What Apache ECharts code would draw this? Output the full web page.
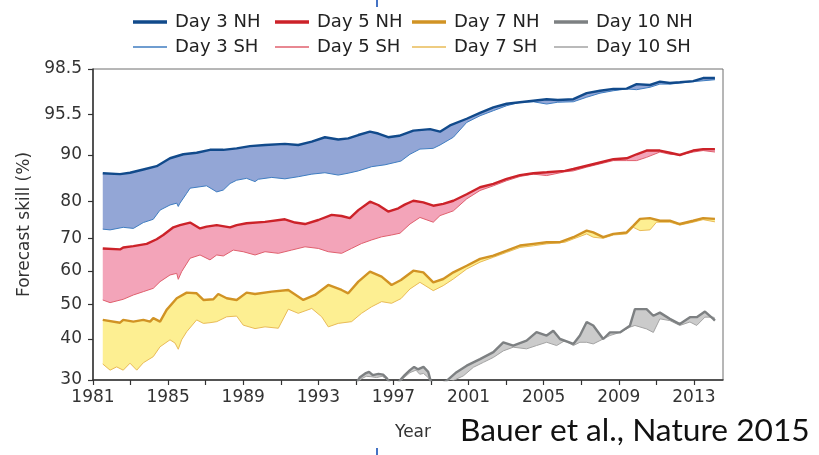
<!DOCTYPE html>
<html><head><meta charset="utf-8">
<script src="https://cdn.jsdelivr.net/npm/echarts@6/dist/echarts.min.js"></script>
<style>html,body{margin:0;padding:0;background:#fff}#c{width:819px;height:455px}</style>
</head><body><div id="c"></div>
<script>
// ---- axis definitions ----
const yearTicks = [1981,1983,1985,1987,1989,1991,1993,1995,1997,1999,2001,2003,2005,2007,2009,2011,2013];
const yearLabels = [1981,1985,1989,1993,1997,2001,2005,2009,2013];
const skillTicks = [30,40,50,60,70,80,90,95.5,98.5];
// the original figure uses a non-linear skill axis: relative axis units at each tick value
const skillScale = [0,41,75.7,109,141.7,178.3,225,265.7,311];

// ---- data: [year, forecast skill %] ----
const day3NH = [[1981.52,86.1],[1982.44,85.9],[1982.97,86.2],[1983.68,86.9],[1984.39,87.6],[1985.1,89.3],[1985.81,90.1],[1986.52,90.3],[1987.23,90.7],[1987.94,90.7],[1988.65,90.9],[1989.36,91.2],[1990.16,91.35],[1991.22,91.5],[1991.93,91.35],[1992.65,91.8],[1993.35,92.4],[1994.06,92.1],[1994.59,92.25],[1995.13,92.7],[1995.75,93.15],[1996.19,92.9],[1996.72,92.4],[1997.3,92.6],[1998.06,93.3],[1998.95,93.5],[1999.48,93.15],[2000.01,94.0],[2000.9,94.9],[2001.61,95.6],[2002.32,95.96],[2003.03,96.2],[2003.74,96.3],[2004.45,96.4],[2005.16,96.5],[2005.75,96.45],[2006.58,96.5],[2007.29,96.9],[2008.0,97.06],[2008.71,97.18],[2009.42,97.2],[2009.95,97.5],[2010.66,97.44],[2011.19,97.66],[2011.72,97.57],[2012.25,97.62],[2012.96,97.7],[2013.49,97.9],[2014.12,97.9]];
const day3SH = [[1981.52,72.5],[1981.91,72.3],[1982.61,73.0],[1983.15,72.7],[1983.68,74.3],[1984.21,75.2],[1984.57,77.7],[1985.1,79.1],[1985.46,79.6],[1985.54,78.7],[1985.63,79.6],[1985.99,81.8],[1986.17,82.9],[1986.7,83.2],[1987.05,83.4],[1987.59,82.1],[1987.94,82.5],[1988.3,83.9],[1988.65,84.6],[1989.18,85.0],[1989.63,84.3],[1989.8,84.8],[1990.52,85.2],[1991.22,84.9],[1991.93,85.35],[1992.65,85.9],[1993.35,86.2],[1994.06,85.7],[1994.59,86.1],[1995.13,86.6],[1995.84,87.5],[1996.55,87.9],[1997.08,88.4],[1997.4,88.7],[1997.88,90.1],[1998.41,90.8],[1999.12,90.9],[1999.48,91.35],[2000.19,92.4],[2000.9,94.4],[2001.61,95.3],[2002.32,95.74],[2003.03,96.07],[2003.74,96.3],[2004.45,96.33],[2005.16,96.18],[2005.75,96.3],[2006.58,96.33],[2007.29,96.63],[2008.0,96.9],[2008.71,97.06],[2009.42,97.18],[2009.95,97.13],[2010.66,97.29],[2011.19,97.5],[2011.72,97.5],[2012.25,97.57],[2012.96,97.66],[2013.49,97.72],[2014.12,97.79]];
const day5NH = [[1981.52,66.9],[1982.44,66.6],[1982.61,67.2],[1983.15,67.6],[1983.86,68.3],[1984.39,69.7],[1984.74,70.9],[1985.28,73.0],[1985.63,73.6],[1986.17,74.3],[1986.7,72.7],[1987.05,73.2],[1987.59,73.6],[1988.3,73.0],[1988.65,73.6],[1989.18,74.1],[1990.16,74.5],[1991.22,75.2],[1991.76,74.3],[1992.29,73.9],[1993.0,75.0],[1993.71,76.4],[1994.24,76.1],[1994.68,75.5],[1995.13,77.7],[1995.75,80.0],[1996.19,79.1],[1996.72,77.3],[1997.26,78.2],[1997.6,79.2],[1998.06,80.2],[1998.59,79.8],[1999.12,78.9],[1999.65,79.4],[2000.19,80.2],[2000.9,81.6],[2001.61,83.1],[2002.32,83.8],[2003.03,84.9],[2003.74,85.7],[2004.45,86.1],[2005.16,86.3],[2006.13,86.6],[2006.58,87.0],[2007.29,87.7],[2008.0,88.4],[2008.71,89.1],[2009.42,89.3],[2009.95,90.1],[2010.48,90.6],[2011.19,90.6],[2011.72,90.3],[2012.25,90.0],[2012.96,90.6],[2013.49,90.8],[2014.12,90.8]];
const day5SH = [[1981.52,51.3],[1981.91,50.5],[1982.61,51.5],[1983.15,52.8],[1983.68,53.8],[1984.21,54.8],[1984.57,56.8],[1985.1,58.8],[1985.46,59.3],[1985.54,57.5],[1985.72,59.8],[1986.17,63.9],[1986.7,64.9],[1987.23,63.4],[1987.59,64.9],[1987.94,64.6],[1988.47,66.4],[1989.0,65.9],[1989.63,64.9],[1990.16,65.9],[1990.87,65.4],[1991.58,66.4],[1992.29,67.4],[1993.0,66.9],[1993.53,65.9],[1994.24,65.4],[1994.77,66.9],[1995.3,68.4],[1995.84,69.5],[1996.37,70.4],[1996.9,70.9],[1997.35,71.4],[1997.88,73.9],[1998.41,75.7],[1999.12,74.4],[1999.48,76.2],[2000.19,77.5],[2000.9,80.6],[2001.61,82.4],[2002.32,83.4],[2003.03,84.5],[2003.74,85.4],[2004.45,85.9],[2005.16,85.6],[2006.13,86.4],[2006.58,86.6],[2007.29,87.4],[2008.0,88.1],[2008.71,88.8],[2009.42,88.8],[2009.95,88.8],[2010.48,89.5],[2011.19,90.4],[2011.72,90.1],[2012.25,90.0],[2012.96,90.4],[2013.49,90.6],[2014.12,90.4]];
const day7NH = [[1981.52,45.5],[1982.44,44.7],[1982.61,45.5],[1983.15,45.0],[1983.68,45.5],[1984.04,45.0],[1984.21,46.0],[1984.57,45.0],[1984.92,48.4],[1985.46,51.8],[1985.99,53.5],[1986.52,53.3],[1986.88,51.3],[1987.41,51.5],[1987.67,53.1],[1988.12,51.8],[1988.65,51.3],[1989.18,53.5],[1989.63,53.1],[1990.52,53.8],[1991.4,54.3],[1992.2,51.3],[1992.82,52.8],[1993.53,55.8],[1994.24,54.3],[1994.59,53.3],[1995.13,56.8],[1995.75,59.8],[1996.37,58.3],[1996.9,55.8],[1997.4,57.3],[1998.06,60.1],[1998.59,59.6],[1999.12,56.6],[1999.65,57.6],[2000.19,59.6],[2000.9,61.6],[2001.61,63.7],[2002.32,64.7],[2003.03,66.2],[2003.74,67.8],[2004.45,68.3],[2005.16,68.8],[2005.87,68.8],[2006.58,70.3],[2007.29,72.1],[2007.64,71.6],[2008.17,70.3],[2008.71,71.2],[2009.42,71.6],[2009.77,73.4],[2010.13,75.3],[2010.66,75.5],[2011.19,74.8],[2011.72,74.8],[2012.25,73.9],[2012.96,74.8],[2013.49,75.5],[2014.12,75.3]];
const day7SH = [[1981.52,33.9],[1981.91,32.4],[1982.26,33.2],[1982.61,32.4],[1982.97,34.1],[1983.33,32.4],[1983.68,34.2],[1984.21,35.7],[1984.57,38.1],[1985.1,39.8],[1985.37,39.0],[1985.54,37.5],[1985.72,39.8],[1985.99,42.1],[1986.52,45.5],[1986.88,44.5],[1987.23,44.7],[1987.59,45.0],[1988.12,46.4],[1988.65,46.6],[1989.0,44.0],[1989.63,43.0],[1990.16,43.5],[1990.87,43.1],[1991.4,48.6],[1991.93,47.4],[1992.65,48.8],[1993.18,46.4],[1993.53,43.5],[1994.06,44.5],[1994.77,45.0],[1995.3,47.4],[1995.84,49.3],[1996.37,50.8],[1996.9,50.3],[1997.4,51.7],[1997.88,54.6],[1998.41,56.6],[1999.12,54.1],[1999.65,55.6],[2000.19,57.6],[2000.9,60.6],[2001.61,62.7],[2002.32,64.2],[2003.03,65.7],[2003.74,67.2],[2004.45,67.7],[2005.16,68.3],[2006.13,68.8],[2006.58,69.8],[2007.29,71.2],[2007.64,70.3],[2008.17,70.0],[2008.71,70.9],[2009.42,71.2],[2009.77,73.0],[2010.13,72.1],[2010.66,72.3],[2011.01,74.4],[2011.72,74.4],[2012.25,73.6],[2012.96,74.4],[2013.49,75.1],[2014.12,74.5]];
const day10NH = [[1995.0,29.0],[1995.2,30.6],[1995.5,31.6],[1995.7,32.0],[1995.9,31.2],[1996.2,31.5],[1996.45,31.3],[1996.65,30.4],[1996.85,29.0],[1997.1,28.5],[1997.35,29.9],[1997.6,31.2],[1997.88,32.4],[1998.1,33.2],[1998.3,32.6],[1998.6,33.2],[1998.85,32.0],[1999.0,29.5],[1999.4,28.5],[1999.83,29.8],[2000.36,31.9],[2000.9,33.5],[2001.61,35.1],[2002.32,36.8],[2002.85,39.2],[2003.38,38.4],[2004.09,39.6],[2004.62,42.0],[2005.16,41.0],[2005.51,42.4],[2005.87,40.0],[2006.58,38.8],[2006.93,41.0],[2007.29,44.9],[2007.64,43.9],[2008.17,40.0],[2008.53,41.9],[2009.06,41.9],[2009.59,43.8],[2009.86,48.6],[2010.48,48.6],[2010.84,46.7],[2011.19,47.6],[2011.72,45.8],[2012.25,44.3],[2012.79,46.3],[2013.15,46.3],[2013.59,47.9],[2014.03,45.8],[2014.12,45.3]];
const day10SH = [[1995.0,29.0],[1995.3,30.3],[1995.55,30.9],[1995.8,30.8],[1996.1,30.6],[1996.4,30.9],[1996.65,30.2],[1996.85,29.0],[1997.1,28.5],[1997.35,29.7],[1997.88,31.8],[1998.2,32.4],[1998.4,31.4],[1998.6,31.6],[1998.85,30.6],[1999.0,29.3],[1999.4,28.5],[2000.01,29.5],[2000.72,31.0],[2001.26,33.1],[2001.79,34.3],[2002.32,35.5],[2002.85,37.1],[2003.38,38.0],[2004.09,37.6],[2004.62,38.4],[2005.16,39.2],[2005.69,38.4],[2006.13,39.6],[2006.58,38.4],[2006.93,39.2],[2007.29,39.2],[2007.64,38.8],[2008.17,40.0],[2008.53,41.0],[2009.06,41.9],[2009.59,43.4],[2009.86,43.9],[2010.48,42.9],[2010.84,41.9],[2011.19,45.8],[2011.72,45.3],[2012.25,43.9],[2012.79,44.9],[2013.15,43.9],[2013.59,46.3],[2014.03,46.3],[2014.12,46.0]];

// ---- styles ----
const groups = [
  {day:'Day 3',  nh:day3NH,  sh:day3SH,  nhColor:'#114a8b', shColor:'#3f7dc1', fill:'#93a6d6'},
  {day:'Day 5',  nh:day5NH,  sh:day5SH,  nhColor:'#cc2229', shColor:'#e0606e', fill:'#f3a4b9'},
  {day:'Day 7',  nh:day7NH,  sh:day7SH,  nhColor:'#d19324', shColor:'#e9bb57', fill:'#fdef92'},
  {day:'Day 10', nh:day10NH, sh:day10SH, nhColor:'#7d8082', shColor:'#a3a3a3', fill:'#cbcbcb'}
];
const legendLeft = [133, 275, 412, 554];
const FONT = 'DejaVu Sans';

function skillToAxis(v) {
  const t = skillTicks, s = skillScale;
  let i = 0;
  if (v >= t[t.length - 1]) i = t.length - 2;
  else if (v > t[0]) { while (v > t[i + 1]) i++; }
  return s[i] + (v - t[i]) * (s[i + 1] - s[i]) / (t[i + 1] - t[i]);
}
const toAxis = arr => arr.map(p => [p[0], skillToAxis(p[1])]);

const series = [];
const legends = [];
groups.forEach((g, gi) => {
  const nhA = toAxis(g.nh), shA = toAxis(g.sh);
  series.push({
    type: 'custom', coordinateSystem: 'cartesian2d', silent: true, clip: true, z: 1,
    data: [[g.nh[0][0], 0]],
    renderItem: (params, api) => {
      const pts = nhA.map(p => api.coord(p)).concat(shA.slice().reverse().map(p => api.coord(p)));
      return {type: 'polygon', shape: {points: pts}, style: {fill: g.fill, stroke: null}};
    }
  });
  series.push({
    name: g.day + ' SH', type: 'line', data: shA, symbol: 'none', z: 2, clip: true,
    color: g.shColor, lineStyle: {width: 1, color: g.shColor}
  });
  series.push({
    name: g.day + ' NH', type: 'line', data: nhA, symbol: 'none', z: 3, clip: true,
    color: g.nhColor, lineStyle: {width: 2.4, color: g.nhColor}
  });
  [['NH', 3.5, 13], ['SH', 1.3, 38]].forEach(([h, ih, top]) => {
    legends.push({
      data: [{name: g.day + ' ' + h, icon: 'rect'}],
      left: legendLeft[gi], top: top, itemWidth: 34, itemHeight: ih, itemGap: 0,
      selectedMode: false, padding: 0,
      textStyle: {fontFamily: FONT, fontSize: 18, color: '#222', padding: [0, 0, 0, 3]}
    });
  });
});

const chart = echarts.init(document.getElementById('c'), null, {renderer: 'canvas'});
chart.setOption({
  animation: false,
  backgroundColor: '#fff',
  legend: legends,
  grid: {left: 93, top: 69, width: 630, height: 311, show: true, borderColor: '#6e6e6e', borderWidth: 1, containLabel: false},
  xAxis: {
    type: 'value', min: 1981, max: 2014.55,
    axisLine: {lineStyle: {color: '#333', width: 1.5}},
    axisTick: {customValues: yearTicks, length: 5, lineStyle: {color: '#333', width: 1.2}},
    axisLabel: {customValues: yearLabels, fontFamily: FONT, fontSize: 17, color: '#333', margin: 9,
      formatter: v => String(Math.round(v))},
    splitLine: {show: false}
  },
  yAxis: {
    type: 'value', min: 0, max: 311,
    name: 'Forecast skill (%)', nameLocation: 'middle', nameGap: 57,
    nameTextStyle: {fontFamily: FONT, fontSize: 17, color: '#333'},
    axisLine: {show: true, lineStyle: {color: '#333', width: 1.5}},
    axisTick: {show: true, customValues: skillTicks.map(skillToAxis), length: 5, lineStyle: {color: '#333', width: 1.2}},
    axisLabel: {
      customValues: skillTicks.map(skillToAxis), fontFamily: FONT, fontSize: 17, color: '#333', margin: 11,
      formatter: v => {
        let best = 0;
        skillScale.forEach((s, i) => { if (Math.abs(s - v) < Math.abs(skillScale[best] - v)) best = i; });
        return String(skillTicks[best]);
      }
    },
    splitLine: {show: false}
  },
  graphic: [
    {type: 'text', left: 395, top: 424, style: {text: 'Year', fontFamily: FONT, fontSize: 17, fill: '#333'}},
    {type: 'text', left: 460, top: 415, style: {text: 'Bauer et al., Nature 2015', fontFamily: 'Lato', fontSize: 31.7, fill: '#111'}},
    {type: 'line', shape: {x1: 377, y1: 0, x2: 377, y2: 7}, style: {stroke: '#4472c4', lineWidth: 2}},
    {type: 'line', shape: {x1: 377, y1: 448, x2: 377, y2: 455}, style: {stroke: '#4472c4', lineWidth: 2}}
  ],
  series: series
});
</script></body></html>
